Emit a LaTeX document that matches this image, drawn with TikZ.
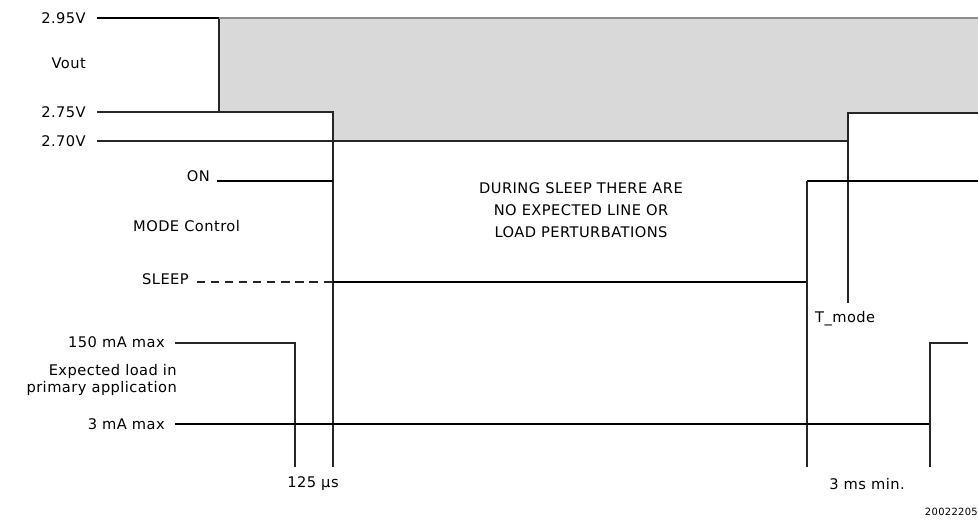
\documentclass[tikz,border=0pt]{standalone}
\usepackage{fontspec}
\setmainfont{DejaVu Sans}[LetterSpace=3]
\begin{document}
\begin{tikzpicture}[
        x=0.03cm, y=-0.03cm,
        every node/.style={font=\fontsize{12.5}{15}\selectfont, inner sep=0pt},
        lbl/.style={anchor=east},
        heavy/.style={line width=1.5pt, black},
        light/.style={line width=0.9pt, black!85},
        band/.style={fill=black!15, draw=black!45, line width=0.8pt}
        ]
        \useasboundingbox (0,0) rectangle (978,521);
        \fill[band, draw=none] (219,18) -- (978,18) -- (978,113) -- (848,113)
            -- (848,141) -- (333,141) -- (333,112) -- (219,112) -- cycle;
        \node[lbl] (v295) at (86,18) {2.95V};
        \node[lbl] (vout) at (86,63) {Vout};
        \node[lbl] (v275) at (86,112) {2.75V};
        \node[lbl] (v270) at (86,141) {2.70V};
        \node[lbl] (on) at (210,176) {ON};
        \node[anchor=west] (mode) at (133,226) {MODE Control};
        \node[lbl] (sleep) at (189,279) {SLEEP};
        \node[lbl] (ihi) at (165,342) {150 mA max};
        \node[lbl, align=right] (load) at (177,380) {Expected load in\\primary application};
        \node[lbl] (ilo) at (165,424) {3 mA max};
        \node[align=center, font=\fontsize{12.5}{18.8}\selectfont] (note) at (581,210)
            {DURING SLEEP THERE ARE\\NO EXPECTED LINE OR\\LOAD PERTURBATIONS};
        \node[anchor=west] (tmode) at (815,319) {T\_mode};
        \node (t125) at (313,484) {125 μs};
        \node (t3ms) at (867,484) {3 ms min.};
        \node[anchor=east, font=\fontsize{8.5}{10}\selectfont] (fig) at (978,512) {20022205};
        \coordinate (a0) at (97,18);
        \coordinate (a1) at (219,18);
        \coordinate (a2) at (219,112);
        \coordinate (a3) at (978,18);
        \coordinate (b0) at (97,112);
        \coordinate (b1) at (333,112);
        \coordinate (b2) at (333,467);
        \coordinate (c0) at (97,141);
        \coordinate (c1) at (848,141);
        \coordinate (c2) at (848,113);
        \coordinate (c3) at (978,113);
        \coordinate (c4) at (848,303);
        \coordinate (d0) at (217,181);
        \coordinate (d1) at (333,181);
        \coordinate (e0) at (197,282);
        \coordinate (e1) at (333,282);
        \coordinate (e2) at (807,282);
        \coordinate (e3) at (807,181);
        \coordinate (e4) at (978,181);
        \coordinate (e5) at (807,467);
        \coordinate (f0) at (175,343);
        \coordinate (f1) at (295,343);
        \coordinate (f2) at (295,467);
        \coordinate (g0) at (175,424);
        \coordinate (g1) at (930,424);
        \coordinate (g2) at (930,343);
        \coordinate (g3) at (968,343);
        \coordinate (g4) at (930,467);
        \draw[heavy] (a0) -- (a1);
        \draw[light] (a1) -- (a2);
        \draw[light, black!45] (a1) -- (a3);
        \draw[light] (b0) -- (b1) -- (b2);
        \draw[light] (c0) -- (c1) -- (c2) -- (c3);
        \draw[light] (c2) -- (c4);
        \draw[heavy] (d0) -- (d1);
        \draw[light, dashed, dash pattern=on 7pt off 5pt] (e0) -- (e1);
        \draw[heavy] (e1) -- (e2);
        \draw[light] (e2) -- (e3);
        \draw[heavy] (e3) -- (e4);
        \draw[light] (e3) -- (e5);
        \draw[light] (f0) -- (f1) -- (f2);
        \draw[heavy] (g0) -- (g1);
        \draw[light] (g1) -- (g2) -- (g3);
        \draw[light] (g1) -- (g4);
    \end{tikzpicture}
\end{document}
